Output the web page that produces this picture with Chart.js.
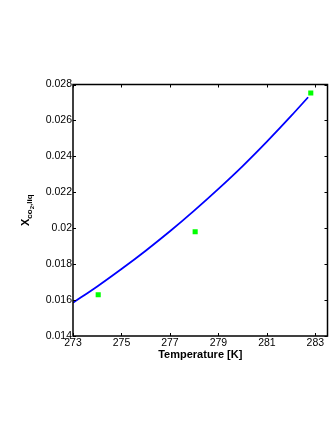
<!DOCTYPE html>
<html>
<head>
<meta charset="utf-8">
<script src="https://cdn.jsdelivr.net/npm/chart.js@4.4.1/dist/chart.umd.min.js"></script>
<style>
html,body{margin:0;padding:0;background:#fff;}
#wrap{width:332px;height:430px;position:relative;}
</style>
</head>
<body>
<div id="wrap"><canvas id="c" width="332" height="430"></canvas></div>
<script>
// Model curve (temperature in K, mole fraction)
const curveT = [273, 274, 275, 276, 277, 278, 279, 280, 281, 282, 282.7];
const curveX = [0.01585, 0.01676, 0.01773, 0.01875, 0.01983, 0.02098, 0.02219, 0.02346, 0.02482, 0.02625, 0.02729];
// Measured points
const expT = [274.04, 278.04, 282.81];
const expX = [0.0163, 0.0198, 0.02753];
// Axis ticks
const xTicks = [273, 275, 277, 279, 281, 283];
const yTicks = [0.014, 0.016, 0.018, 0.02, 0.022, 0.024, 0.026, 0.028];
const yTickLabels = ['0.014', '0.016', '0.018', '0.02', '0.022', '0.024', '0.026', '0.028'];
const xTitle = 'Temperature [K]';

const FONT = '"Liberation Sans", Arial, Helvetica, sans-serif';

const framePlugin = {
  id: 'frame',
  afterDraw(chart) {
    const ctx = chart.ctx, a = chart.chartArea;
    const xs = chart.scales.x, ys = chart.scales.y;
    ctx.save();
    ctx.strokeStyle = '#000';
    ctx.lineWidth = 1.5;
    ctx.strokeRect(a.left, a.top, a.right - a.left, a.bottom - a.top);
    ctx.lineWidth = 1;
    const tl = 3;
    ctx.beginPath();
    xTicks.forEach(v => {
      const px = Math.round(xs.getPixelForValue(v)) + 0.5;
      ctx.moveTo(px, a.bottom); ctx.lineTo(px, a.bottom - tl);
      ctx.moveTo(px, a.top); ctx.lineTo(px, a.top + tl);
    });
    yTicks.forEach(v => {
      const py = Math.round(ys.getPixelForValue(v)) + 0.5;
      ctx.moveTo(a.left, py); ctx.lineTo(a.left + tl, py);
      ctx.moveTo(a.right, py); ctx.lineTo(a.right - tl, py);
    });
    ctx.stroke();

    // x title
    ctx.fillStyle = '#000';
    ctx.font = 'bold 11px ' + FONT;
    ctx.textAlign = 'center';
    ctx.textBaseline = 'alphabetic';
    ctx.fillText(xTitle, (a.left + a.right) / 2, 358);

    // y title: X_{co_2,liq}
    const parts = [
      {t: 'X', f: 'bold 11px ' + FONT, dy: 0},
      {t: 'co', f: 'bold 8px ' + FONT, dy: 3},
      {t: '2', f: 'bold 6px ' + FONT, dy: 5},
      {t: ',liq', f: 'bold 8px ' + FONT, dy: 3}
    ];
    let total = 0;
    parts.forEach(p => { ctx.font = p.f; p.w = ctx.measureText(p.t).width; total += p.w; });
    ctx.translate(28.5, (a.top + a.bottom) / 2 + total / 2);
    ctx.rotate(-Math.PI / 2);
    ctx.textAlign = 'left';
    let x = 0;
    parts.forEach(p => { ctx.font = p.f; ctx.fillText(p.t, x, p.dy); x += p.w; });
    ctx.restore();
  }
};

new Chart(document.getElementById('c'), {
  type: 'scatter',
  data: {
    datasets: [
      {
        label: 'model',
        data: curveT.map((t, i) => ({x: t, y: curveX[i]})),
        showLine: true,
        borderColor: '#0000ff',
        borderWidth: 1.8,
        pointRadius: 0,
        tension: 0.4,
        cubicInterpolationMode: 'monotone',
        order: 2
      },
      {
        label: 'data',
        data: expT.map((t, i) => ({x: t, y: expX[i]})),
        showLine: false,
        pointStyle: 'rect',
        pointRadius: 3.6,
        backgroundColor: '#00ff00',
        borderColor: '#00ff00',
        borderWidth: 0,
        order: 1
      }
    ]
  },
  options: {
    responsive: false,
    animation: false,
    events: [],
    layout: {padding: {left: 0, right: 4.5, top: 84.5, bottom: 0}},
    plugins: {legend: {display: false}, tooltip: {enabled: false}},
    scales: {
      x: {
        type: 'linear', min: 273, max: 283.5,
        grid: {display: false, drawTicks: false},
        border: {display: false},
        afterBuildTicks: s => { s.ticks = xTicks.map(v => ({value: v})); },
        afterFit: s => { s.height = 94; },
        ticks: {color: '#000', padding: 1, maxRotation: 0, autoSkip: false,
          font: {family: FONT, size: 10.5}, callback: v => String(v)}
      },
      y: {
        type: 'linear', min: 0.014, max: 0.028,
        grid: {display: false, drawTicks: false},
        border: {display: false},
        afterBuildTicks: s => { s.ticks = yTicks.map(v => ({value: v})); },
        afterFit: s => { s.width = 73; },
        ticks: {color: '#000', padding: 1, autoSkip: false,
          font: {family: FONT, size: 10.5},
          callback: (v) => { const i = yTicks.findIndex(t => Math.abs(t - v) < 1e-9); return i >= 0 ? yTickLabels[i] : ''; }}
      }
    }
  },
  plugins: [framePlugin]
});
</script>
</body>
</html>
